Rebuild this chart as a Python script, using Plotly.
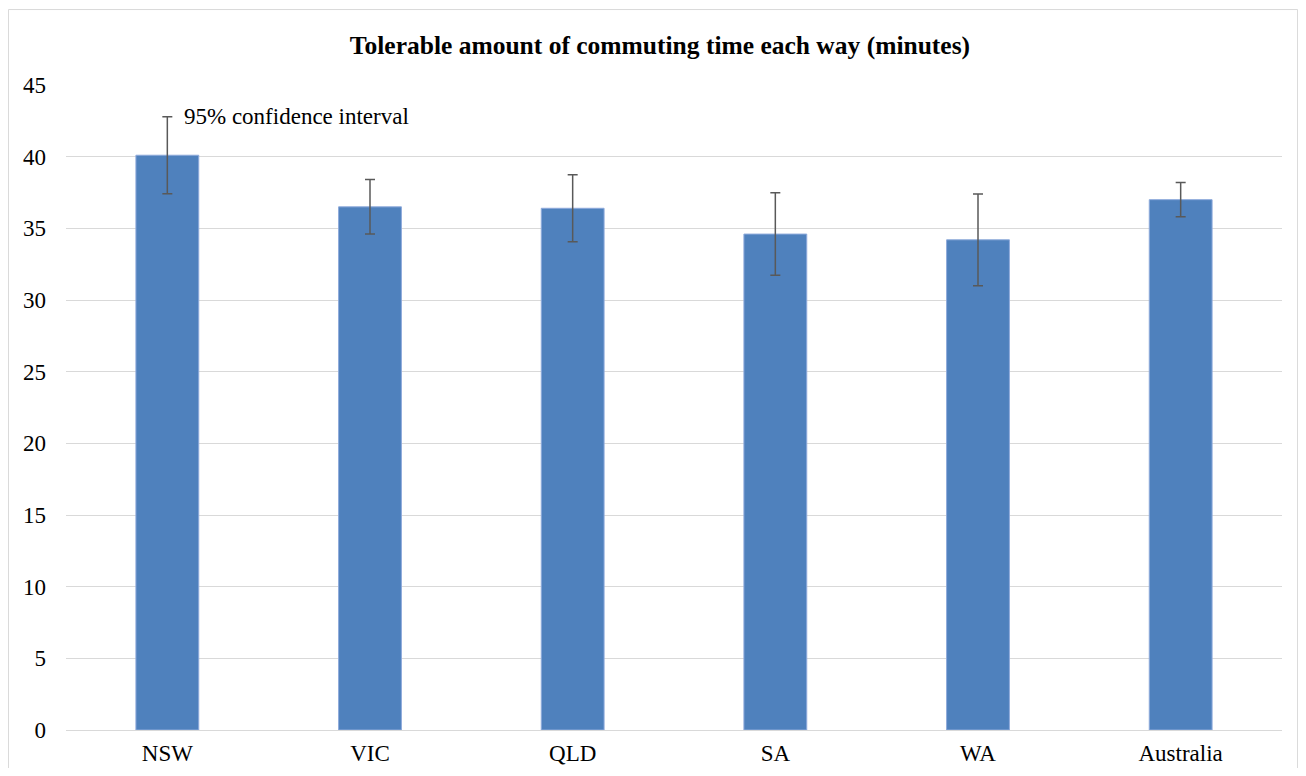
import plotly.graph_objects as go

categories = ["NSW", "VIC", "QLD", "SA", "WA", "Australia"]
values = [40.1, 36.5, 36.4, 34.6, 34.2, 37.0]
ci_half = [2.68, 1.9, 2.34, 2.88, 3.2, 1.19]
y_ticks = [0, 5, 10, 15, 20, 25, 30, 35, 40, 45]

FONT = "Liberation Serif"

fig = go.Figure()
fig.add_trace(go.Bar(
    x=categories,
    y=values,
    marker=dict(color="#4F81BD", line=dict(color="#8EAADB", width=1)),
    error_y=dict(type="data", array=ci_half, visible=True,
                 color="#595959", thickness=1.5, width=5),
    showlegend=False,
))

fig.add_annotation(
    x=0, y=values[0] + ci_half[0], xref="x", yref="y",
    text="95% confidence interval", showarrow=False,
    xanchor="left", yanchor="middle", xshift=15,
    font=dict(family=FONT, size=23, color="#000000"),
)

fig.add_shape(type="rect", xref="paper", yref="paper",
              x0=-0.0473, x1=1.0128, y0=-0.2, y1=1.117,
              line=dict(color="#D9D9D9", width=1), layer="below")

fig.update_layout(
    width=1290, height=760,
    margin=dict(l=58, r=16, t=77, b=38, autoexpand=False),
    paper_bgcolor="white", plot_bgcolor="white",
    title=dict(text="<b>Tolerable amount of commuting time each way (minutes)</b>",
               x=0.5054, xanchor="center", y=1 - 37 / 760, yanchor="middle",
               font=dict(family=FONT, size=25.5, color="#000000")),
    bargap=0.69,
    font=dict(family=FONT, size=23, color="#000000"),
    xaxis=dict(showgrid=False, showline=True, linecolor="#D9D9D9", linewidth=1,
               ticks="", tickfont=dict(family=FONT, size=23), fixedrange=True,
               ticklabelstandoff=2, automargin=False),
    yaxis=dict(range=[0, 45], tickvals=y_ticks, showgrid=True, gridcolor="#D9D9D9",
               gridwidth=1, zeroline=False, showline=False, ticks="",
               tickfont=dict(family=FONT, size=23), ticklabelstandoff=19,
               automargin=False),
)

fig.write_html("out.html")
